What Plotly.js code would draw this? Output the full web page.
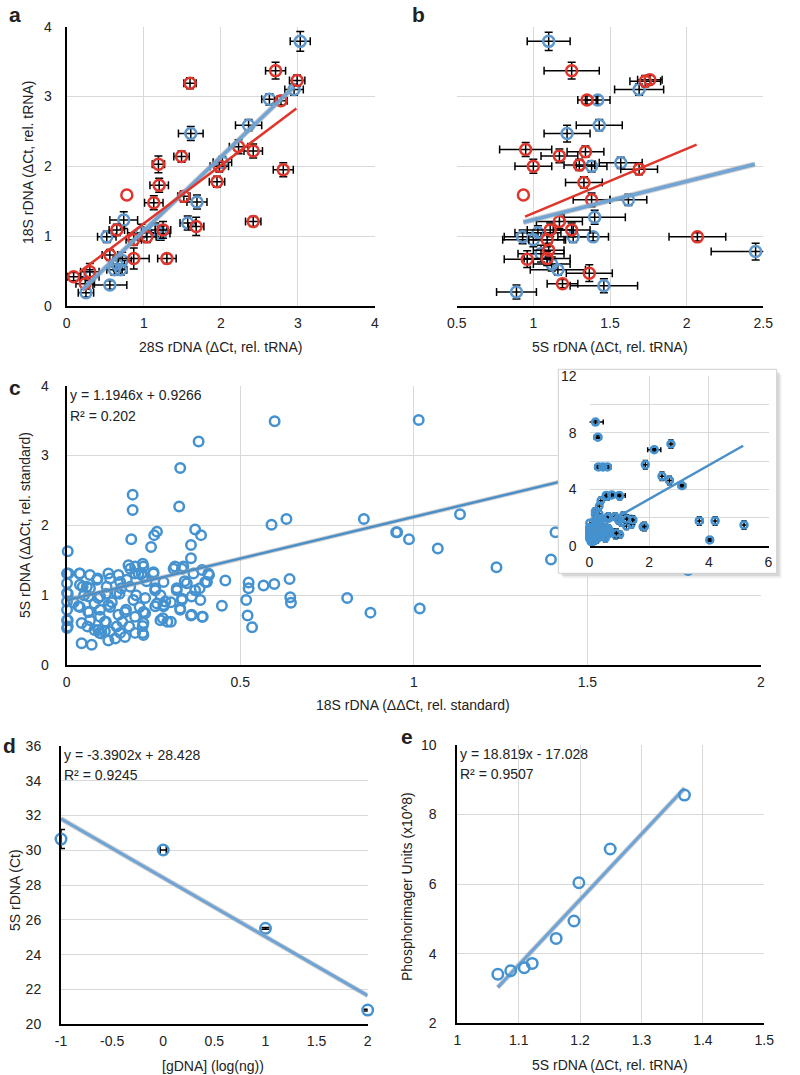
<!DOCTYPE html>
<html><head><meta charset="utf-8">
<script src="https://cdn.plot.ly/plotly-3.0.1.min.js"></script>
<style>html,body{margin:0;padding:0;background:#fff}#chart{width:800px;height:1075px}</style>
</head><body><div id="chart"></div>
<script>
// ---------- Panel a: 18S vs 28S ----------
const aBlueX  = [3.03,2.95,2.63,2.36,1.61,2.02,1.69,1.57,0.74,1.15,0.56,0.25,0.65,0.70,0.62,0.52,0.72,1.22,0.30,0.97];
const aBlueY  = [3.79,3.10,2.96,2.59,2.47,2.06,1.49,1.19,1.23,1.09,0.30,0.19,0.60,0.52,0.52,0.99,0.65,1.04,0.42,1.05];
const aBlueXe = [0.13,0.12,0.10,0.17,0.16,0.12,0.13,0.10,0.18,0.15,0.22,0.10,0.10,0.08,0.10,0.12,0.12,0.12,0.12,0.18];
const aBlueYe = [0.14,0.08,0.08,0.08,0.10,0.08,0.10,0.10,0.12,0.10,0.06,0.06,0.10,0.08,0.08,0.08,0.12,0.10,0.10,0.12];
const aRedX  = [1.60,2.71,2.99,2.78,2.23,2.42,2.81,1.49,1.19,1.20,1.98,1.95,1.13,1.52,0.78,1.68,2.42,1.25,1.04,0.87,0.65,0.87,1.30,0.56,0.24,0.09,0.30];
const aRedY  = [3.19,3.37,3.23,2.94,2.28,2.22,1.95,2.14,2.03,1.73,2.00,1.78,1.48,1.57,1.59,1.14,1.21,1.09,0.99,0.95,1.09,0.68,0.68,0.73,0.32,0.42,0.49];
const aRedXe = [0.08,0.13,0.10,0.08,0.12,0.12,0.13,0.10,0.08,0.12,0.12,0.10,0.12,0.08,NaN,0.10,0.10,0.10,0.12,0.10,0.10,0.20,0.12,0.10,0.12,0.08,0.12];
const aRedYe = [0.08,0.12,0.08,0.06,0.10,0.10,0.10,0.08,0.12,0.10,0.08,0.08,0.10,0.08,NaN,0.13,0.07,0.12,0.08,0.08,0.08,0.15,0.07,0.08,0.08,0.06,0.12];
const aTrendBlueX = [0.20,2.95], aTrendBlueY = [0.23,3.14];
const aTrendRedX  = [0.17,2.98], aTrendRedY  = [0.49,2.83];

// ---------- Panel b: 18S vs 5S ----------
const bBlueX  = [1.10,1.69,1.42,1.43,1.22,1.57,1.38,1.62,1.40,2.45,0.89,1.46,1.39,0.93,1.26,1.16,1.03,1.05,1.12,1.00];
const bBlueY  = [3.79,3.10,2.95,2.59,2.47,2.05,2.00,1.52,1.27,0.78,0.20,0.29,0.99,0.99,0.99,0.52,1.05,0.75,0.60,0.95];
const bBlueXe = [0.14,0.16,0.08,0.15,0.15,0.14,0.10,0.12,0.20,0.29,0.13,0.22,0.10,0.12,0.10,0.18,0.15,0.15,0.12,0.20];
const bBlueYe = [0.13,0.08,0.06,0.08,0.12,0.08,0.08,0.08,0.10,0.12,0.10,0.10,0.06,0.10,0.08,0.08,0.10,0.12,0.10,0.10];
const bRedX  = [1.25,1.76,1.73,1.35,0.95,1.17,1.34,1.30,1.00,1.69,1.33,0.935,1.38,1.17,1.25,2.07,1.09,1.11,0.96,1.09,1.365,1.19,1.10];
const bRedY  = [3.37,3.24,3.22,2.95,2.24,2.15,2.21,2.02,2.00,1.96,1.77,1.59,1.52,1.21,1.09,0.99,0.95,1.09,0.67,0.68,0.47,0.32,0.80];
const bRedXe = [0.18,0.08,0.10,0.06,0.17,0.12,0.12,0.10,0.12,0.12,0.12,NaN,0.12,0.15,0.12,0.185,0.12,0.15,0.15,0.15,0.15,0.10,0.10];
const bRedYe = [0.12,0.06,0.08,0.06,0.10,0.10,0.08,0.08,0.10,0.08,0.08,NaN,0.10,0.10,0.10,0.06,0.10,0.10,0.12,0.10,0.12,0.06,0.10];
const bTrendBlueX = [0.935,2.445], bTrendBlueY = [1.20,2.03];
const bTrendRedX  = [0.946,2.065], bTrendRedY  = [1.28,2.31];

// ---------- Panel c: 5S vs 18S (ΔΔCt) ----------
const cX = [0.599,0.38,0.327,0.324,0.19,0.19,0.186,0.003,0.59,0.633,0.856,0.949,0.26,0.252,0.243,0.37,0.387,0.358,0.358,0.308,
  0.332,0.39,0.41,0.457,0.524,0.524,0.567,0.598,0.642,0.644,0.646,0.808,0.875,0.447,0.517,0.521,0.534,0.39,0.358,0.327,
  1.014,1.133,0.952,0.986,1.069,1.238,1.017,1.395,1.408,1.79,
  0.001,0.001,0.001,0.001,0.001,0.001,0.001,0.038,0.038,0.034,0.043,0.067,0.058,0.062,0.067,0.087,0.091,0.096,0.091,0.043,
  0.072,0.12,0.115,0.12,0.11,0.10,0.125,0.149,0.144,0.149,0.154,0.168,0.173,0.183,0.178,0.197,0.192,0.197,0.207,
  0.312,0.336,0.365,0.221,0.25,0.221,0.279,0.346,0.408,0.399,0.255,0.317,0.37,0.226,0.284,0.332,0.385,0.221,0.255,0.279,
  0.327,0.36,0.27,0.29,0.221,0.221,
  0.094,0.08,0.113,0.125,0.125,0.168,0.197,0.219,0.219,0.226,0.21,0.171,0.152,0.154,0.183,0.197,0.219,0.216,0.25,0.255,
  0.26,0.279,0.3,0.277,0.317,0.332,0.36,0.383,0.404,0.392,0.067,0.063,0.038,0.046,0.065,0.096,0.096,0.11,0.144,0.157,
  0.113,0.089,0.037,0.005,0.003,0.003,0.003,
  0.02,0.05,0.13,0.16,0.18,0.14,0.12,0.20,0.23,0.27,0.30,0.34,0.06,0.08];
const cY = [3.49,3.2,2.82,2.27,2.44,2.22,1.8,1.63,2.01,2.09,2.09,1.9,1.91,1.86,1.69,1.94,1.86,1.72,1.53,1.38,
  1.38,1.36,1.29,1.21,1.18,1.1,1.14,1.16,1.23,0.97,0.89,0.96,0.75,0.85,0.93,0.71,0.54,0.69,0.71,0.81,
  3.51,2.16,1.9,1.8,1.67,1.4,0.81,1.51,1.9,1.36,
  1.31,1.17,1.03,0.91,0.79,0.64,0.53,1.31,1.15,0.84,0.6,1.29,1.12,0.76,0.64,1.22,0.96,0.79,0.5,0.31,
  0.29,1.31,1.12,0.86,0.62,0.45,0.48,1.29,1.03,0.72,0.46,0.76,1.22,1.12,1.43,1.41,0.93,0.69,1.31,
  1.41,1.41,1.31,1.41,1.31,1.27,1.19,1.17,1.31,1.19,1.07,1.07,1.07,0.96,0.91,0.93,0.93,0.76,0.84,0.84,
  0.79,0.72,0.64,0.62,0.6,0.43,
  0.46,0.5,0.62,0.83,1.24,0.4,0.46,0.46,0.56,0.74,0.83,0.79,1.02,1.19,1.38,1.31,1.45,1.31,1.33,1.1,
  0.88,0.86,0.62,0.67,1.1,0.95,0.98,1.1,1.19,0.69,1.1,0.98,0.83,1.12,0.76,0.69,0.98,0.48,0.55,1.1,
  1.02,1.24,1.31,1.31,1.02,0.64,0.55,
  0.9,1.0,0.9,0.62,0.55,0.38,0.35,1.0,1.2,1.0,0.9,1.2,0.55,0.88];
const cSlope = 1.1946, cIntercept = 0.9266;
const cTrendX = [0, 2];
// inset outliers (full range view)
const insX  = [0.20,0.28,0.30,0.45,0.60,2.17,2.73,1.87,2.43,2.68,3.10,3.68,4.21,5.18,4.03,0.56,1.00,0.75,1.45,1.25,1.84,0.90];
const insY  = [8.75,7.68,5.58,5.58,5.58,6.80,7.20,5.74,4.92,4.63,4.26,1.77,1.77,1.49,0.43,3.57,3.57,3.60,1.84,1.90,1.37,0.90];
const insXe = [0.26,0.12,0.12,0.12,0.12,0.22,0.08,0.08,0.10,0.10,0.12,0.12,0.10,0.10,0.10,0.10,0.20,0.10,0.12,0.10,0.10,0.10];
const insYe = [0.15,0.10,0.10,0.10,0.10,0.10,0.30,0.30,0.30,0.30,0.10,0.30,0.30,0.30,0.10,0.20,0.10,0.20,0.30,0.30,0.30,0.30];
const insTrendX = [0.06, 5.15];

// ---------- Panel d: standard curve ----------
const dX  = [-1, 0, 1, 2];
const dY  = [30.65, 30.02, 25.52, 20.82];
const dXe = [NaN, 0.03, NaN, NaN];
const dYe = [0.55, NaN, 0.05, 0.05];
const dSlope = -3.3902, dIntercept = 28.428;
const dTrendX = [-1, 2];

// ---------- Panel e: phosphorimager ----------
const eX = [1.066,1.087,1.109,1.122,1.161,1.190,1.198,1.249,1.370];
const eY = [3.41,3.51,3.60,3.72,4.44,4.94,6.04,7.01,8.56];
const eSlope = 18.819, eIntercept = -17.028;
const eTrendX = [1.066, 1.37];

// ---------- helpers ----------
const W = 800, H = 1075;
const px = v => v / W, py = v => 1 - v / H;
const FONT = 'Liberation Sans, Arial, Helvetica, sans-serif';
const BLUE_AB = '#5d97cc', RED = '#e0352b', BLUE_C = '#4592d0';
const line = (xs, m, b) => xs.map(x => m * x + b);

function eb(arr, w) { return {type:'data', array: arr, visible:true, color:'#000', thickness:1.5, width: w}; }
function pts(x, y, xa, ya, color, size, ex, ey, w, noclip) {
  const t = {type:'scatter', mode:'markers', x, y, xaxis:xa, yaxis:ya, hoverinfo:'skip', cliponaxis: !noclip,
    marker:{symbol:'circle-open', size, color, line:{color, width:2.5}}};
  if (ex) t.error_x = eb(ex, w);
  if (ey) t.error_y = eb(ey, w);
  return t;
}
function trend(x, y, xa, ya, color, width, shadow) {
  const out = [];
  if (shadow) out.push({type:'scatter', mode:'lines', x, y, xaxis:xa, yaxis:ya, hoverinfo:'skip',
    line:{color:'rgba(160,160,160,0.5)', width: width + 2}});
  out.push({type:'scatter', mode:'lines', x, y, xaxis:xa, yaxis:ya, hoverinfo:'skip', line:{color, width}});
  return out;
}

const traces = [
  pts(aBlueX, aBlueY, 'x', 'y', BLUE_AB, 11, aBlueXe, aBlueYe, 4),
  pts(aRedX, aRedY, 'x', 'y', RED, 11, aRedXe, aRedYe, 4),
  ...trend(aTrendBlueX, aTrendBlueY, 'x', 'y', 'rgba(110,162,212,0.95)', 3.5, true),
  ...trend(aTrendRedX, aTrendRedY, 'x', 'y', RED, 2.5, false),
  pts(bBlueX, bBlueY, 'x2', 'y2', BLUE_AB, 11, bBlueXe, bBlueYe, 4),
  pts(bRedX, bRedY, 'x2', 'y2', RED, 11, bRedXe, bRedYe, 4),
  ...trend(bTrendBlueX, bTrendBlueY, 'x2', 'y2', 'rgba(110,162,212,0.95)', 3.5, true),
  ...trend(bTrendRedX, bTrendRedY, 'x2', 'y2', RED, 2.5, false),
  pts(cX, cY, 'x3', 'y3', BLUE_C, 9.5, null, null, 0, true),
  ...trend(cTrendX, line(cTrendX, cSlope, cIntercept), 'x3', 'y3', '#4a8fc8', 2.5, true),
  {type:'scatter', mode:'markers', x:[], y:[], xaxis:'x4', yaxis:'y4', hoverinfo:'skip'},
  Object.assign(pts(cX, cY, 'x5', 'y5', BLUE_C, 6.5, null, null, 0, true), {error_x:{type:'constant', value:0.08, color:'#000', thickness:1.2, width:2.5}, error_y:{type:'constant', value:0.25, color:'#000', thickness:1.2, width:2.5}}),
  pts(insX, insY, 'x5', 'y5', BLUE_C, 7, insXe, insYe, 2.5, true),
  ...trend(insTrendX, line(insTrendX, cSlope, cIntercept), 'x5', 'y5', '#4a8fc8', 2.5, false),
  pts(dX, dY, 'x6', 'y6', BLUE_C, 10.5, dXe, dYe, 4, true),
  ...trend(dTrendX, line(dTrendX, dSlope, dIntercept), 'x6', 'y6', '#6ea3d6', 3, true),
  ...trend(eTrendX, line(eTrendX, eSlope, eIntercept), 'x7', 'y7', '#6ea3d6', 3, true),
  pts(eX, eY, 'x7', 'y7', BLUE_C, 10.5, null, null, 0, true)
];

function axis(o) {
  return Object.assign({showgrid:true, gridcolor:'#d9d9d9', gridwidth:1, zeroline:false, showline:false,
    linecolor:'#000', linewidth:2, ticks:'', tickfont:{size:14, color:'#222', family:FONT},
    fixedrange:true, automargin:false, layer:'above traces'}, o);
}

const layout = {
  width: W, height: H, margin:{l:0, r:0, t:0, b:0}, showlegend:false,
  paper_bgcolor:'#fff', plot_bgcolor:'#fff', font:{family:FONT, color:'#222'},
  xaxis:  axis({domain:[px(66.7), px(375)], range:[0,4], dtick:1, tick0:0, showline:true, anchor:'y', ticklabelstandoff:3}),
  yaxis:  axis({domain:[py(306), py(26.7)], range:[0,4], dtick:1, tick0:0, showline:true, anchor:'x', ticklabelstandoff:10}),
  xaxis2: axis({domain:[px(456.7), px(763.3)], range:[0.5,2.5], dtick:0.5, tick0:0, showline:true, anchor:'y2', ticklabelstandoff:3}),
  yaxis2: axis({domain:[py(306), py(26.7)], range:[0,4], dtick:1, tick0:0, showticklabels:false, anchor:'x2'}),
  xaxis3: axis({domain:[px(66.7), px(761)], range:[0,2], dtick:0.5, tick0:0, showline:true, anchor:'y3', ticklabelstandoff:3}),
  yaxis3: axis({domain:[py(665), py(385.7)], range:[0,4], dtick:1, tick0:0, showline:true, anchor:'x3', ticklabelstandoff:13}),
  xaxis4: {domain:[px(558.3), px(776.7)], range:[0,1], showgrid:false, showticklabels:false, zeroline:false, showline:false, ticks:'', anchor:'y4', fixedrange:true},
  yaxis4: {domain:[py(573.3), py(369.3)], range:[0,1], showgrid:false, showticklabels:false, zeroline:false, showline:false, ticks:'', anchor:'x4', fixedrange:true},
  xaxis5: axis({domain:[px(589.5), px(768.5)], range:[0,6], dtick:2, tick0:0, showline:true, linewidth:1.5, anchor:'y5', ticklabelstandoff:3}),
  yaxis5: axis({domain:[py(546), py(376)], range:[0,12], dtick:4, tick0:0, anchor:'x5', ticklabelstandoff:12,
                minor:{dtick:2, showgrid:true, gridcolor:'#d9d9d9', ticks:''}}),
  xaxis6: axis({domain:[px(61), px(367.7)], range:[-1,2], showgrid:false, showline:true, anchor:'y6', ticklabelstandoff:3,
                tickmode:'array', tickvals:[-1,-0.5,0,0.5,1,1.5,2], ticktext:['-1','-0.5','0','0.5','1','1.5','2']}),
  yaxis6: axis({domain:[py(1024.3), py(746)], range:[20,36], dtick:2, tick0:0, showline:true, anchor:'x6', ticklabelstandoff:15}),
  xaxis7: axis({domain:[px(457.3), px(764.3)], range:[1,1.5], dtick:0.1, tick0:1, showline:true, anchor:'y7', ticklabelstandoff:3}),
  yaxis7: axis({domain:[py(1023.3), py(745)], range:[2,10], dtick:2, tick0:0, showline:true, anchor:'x7', ticklabelstandoff:16}),
  shapes: [
    {type:'rect', xref:'paper', yref:'paper', layer:'below', x0:px(563.3), x1:px(781.7), y0:py(578.3), y1:py(374.3), fillcolor:'rgba(0,0,0,0.06)', line:{width:0}},
    {type:'rect', xref:'paper', yref:'paper', layer:'below', x0:px(561.3), x1:px(779.7), y0:py(576.3), y1:py(372.3), fillcolor:'rgba(0,0,0,0.10)', line:{width:0}},
    {type:'rect', xref:'paper', yref:'paper', layer:'above', x0:px(558.3), x1:px(776.7), y0:py(573.3), y1:py(369.3), fillcolor:'rgba(0,0,0,0)', line:{color:'#cfcfcf', width:1}}
  ],
  annotations: []
};

function note(text, x, y, opts) {
  layout.annotations.push(Object.assign({text, xref:'paper', yref:'paper', x:px(x), y:py(y), showarrow:false,
    xanchor:'center', yanchor:'middle', font:{size:14, color:'#222', family:FONT}}, opts || {}));
}
const LETTER = {size:21, color:'#222', family:FONT};
note('<b>a</b>', 15, 15, {font:LETTER});
note('<b>b</b>', 418, 15, {font:LETTER});
note('<b>c</b>', 15, 387, {font:LETTER});
note('<b>d</b>', 9, 745, {font:LETTER});
note('<b>e</b>', 407, 736, {font:LETTER});
// axis titles
note('28S rDNA (ΔCt, rel. tRNA)', 220, 347);
note('18S rDNA (ΔCt, rel. tRNA)', 28, 163, {textangle:-90});
note('5S rDNA (ΔCt, rel. tRNA)', 610, 347);
note('18S rDNA (ΔΔCt, rel. standard)', 413, 705);
note('5S rDNA (ΔΔCt, rel. standard)', 25, 525, {textangle:-90});
note('[gDNA] (log(ng))', 213, 1066);
note('5S rDNA (Ct)', 15, 890, {textangle:-90});
note('5S rDNA (ΔCt, rel. tRNA)', 610, 1065);
note('Phosphorimager Units (x10^8)', 407, 887, {textangle:-90});
// equations
note('y = 1.1946x + 0.9266', 68, 395, {xanchor:'left'});
note('R² = 0.202', 68, 416, {xanchor:'left'});
note('y = -3.3902x + 28.428', 62, 755, {xanchor:'left'});
note('R² = 0.9245', 62, 775, {xanchor:'left'});
note('y = 18.819x - 17.028', 458, 754, {xanchor:'left'});
note('R² = 0.9507', 458, 774, {xanchor:'left'});

Plotly.newPlot('chart', traces, layout, {staticPlot:true, displayModeBar:false});
</script></body></html>
